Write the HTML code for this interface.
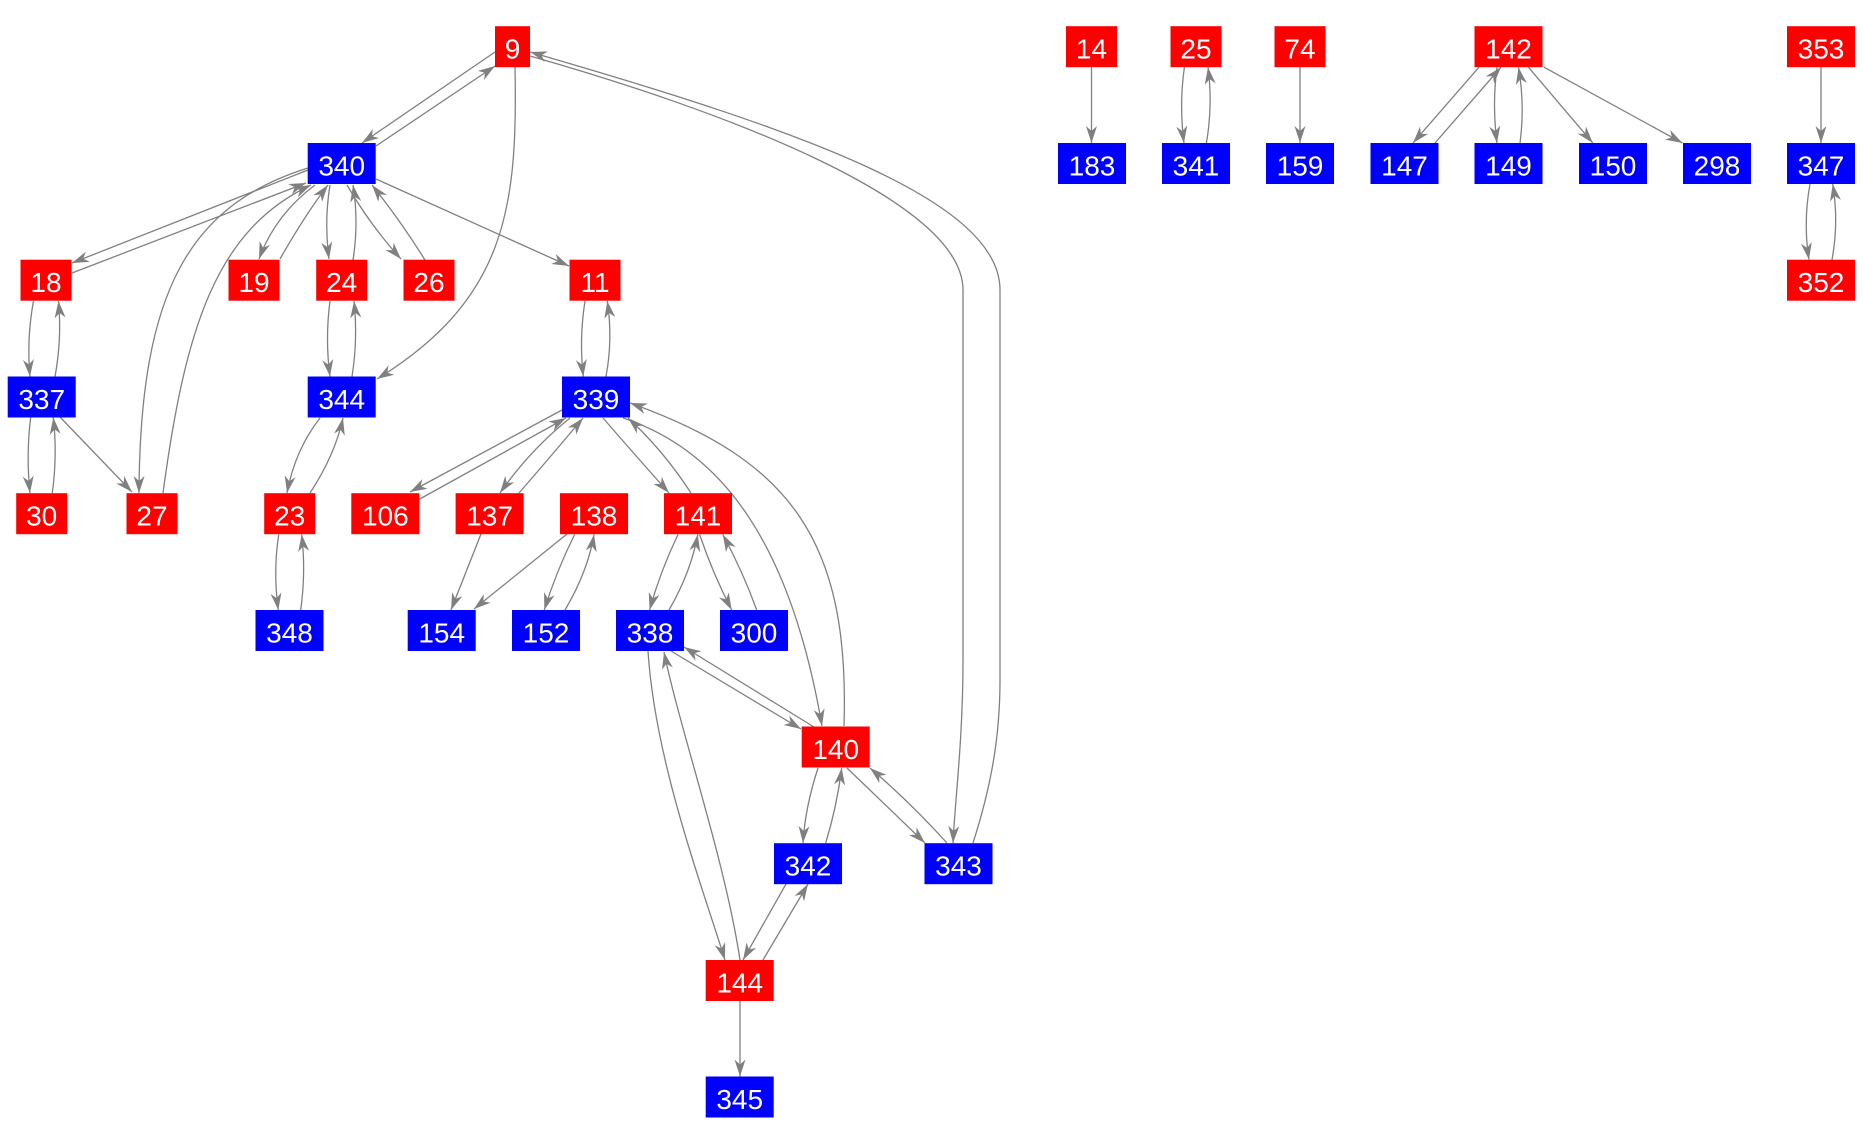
<!DOCTYPE html>
<html>
<head>
<meta charset="utf-8">
<style>
html,body{margin:0;padding:0;background:#fff;}
svg{display:block;}
text{font-family:"Liberation Sans",Arial,sans-serif;font-size:28px;fill:#fff;text-anchor:middle;}
</style>
</head>
<body>
<svg width="1863" height="1142" viewBox="0 0 1863 1142" xmlns="http://www.w3.org/2000/svg">
<defs>
<marker id="a" markerWidth="20" markerHeight="14" refX="18" refY="7" orient="auto" markerUnits="userSpaceOnUse" viewBox="0 0 20 14">
<path d="M18,7 L1,1.5 L6,7 L1,12.5 Z" fill="#808080"/>
</marker>
</defs>
<g fill="none" stroke="#808080" stroke-width="1.3" marker-end="url(#a)">
<path d="M495,52 L362,143"/>
<path d="M376,146 L495,66"/>
<path d="M515,67 C518,210 505,300 377,379"/>
<path d="M530,56 C720,110 963,200 963,290 L963,660 C963,740 955,800 953,843"/>
<path d="M973,843 C990,790 1000,740 1000,680 L1000,290 C1000,200 800,130 530,52"/>
<path d="M308,170 L72,263"/>
<path d="M72,273 L306,183"/>
<path d="M308,168 C190,205 140,290 139,493"/>
<path d="M163,493 C185,330 215,230 311,185"/>
<path d="M315,185 Q275,215 259,259"/>
<path d="M280,259 Q305,215 328,185"/>
<path d="M330,185 Q324,222 329,259"/>
<path d="M353,260 Q359,222 353,185"/>
<path d="M347,185 Q370,225 401,259"/>
<path d="M425,260 Q400,220 372,185"/>
<path d="M376,179 L569,266"/>
<path d="M33.5,301 Q26.5,339 30,376.5"/>
<path d="M55,376.5 Q62,339 58.5,301"/>
<path d="M585,301 Q579,339 583.3,376.5"/>
<path d="M606,376.5 Q613,339 607.3,301"/>
<path d="M330,301 Q325,339 330,376.5"/>
<path d="M352,376.5 Q358,339 354,301"/>
<path d="M30.7,417.5 Q26,455 30,493"/>
<path d="M52.3,493 Q57.5,455 53.3,417.5"/>
<path d="M60,417 L132,492"/>
<path d="M320,418 Q295,450 287,493"/>
<path d="M310,493 Q335,455 343,418"/>
<path d="M278.7,534.5 Q273,572 278.3,610"/>
<path d="M300.7,610 Q306,572 301.7,534.5"/>
<path d="M562,410 L410,492"/>
<path d="M418,500 L566,418"/>
<path d="M570,418 Q530,450 500,493"/>
<path d="M519,493 Q552,455 583,418"/>
<path d="M603,418 Q635,455 669,493"/>
<path d="M691,493 Q663,450 628,418"/>
<path d="M623,418 C720,450 790,540 822,726"/>
<path d="M844,726 C850,540 790,460 630,403"/>
<path d="M567,534 L474,609"/>
<path d="M481,534 L451,610"/>
<path d="M574.6,534.5 Q556,572 544.3,610"/>
<path d="M565,610 Q588,571 594,534.5"/>
<path d="M678,534.5 Q660,572 649.6,610"/>
<path d="M669,610 Q691,572 697.8,534.5"/>
<path d="M699.6,534.5 Q713,574 731.7,610"/>
<path d="M756.7,610 Q743,572 722.8,534.5"/>
<path d="M671,651 L801,729"/>
<path d="M814,727 L684,647"/>
<path d="M648,651 C655,760 700,880 725,960"/>
<path d="M740,960 C725,860 680,730 664,652"/>
<path d="M818,768 Q805,808 803,843"/>
<path d="M825.7,843 Q837,806 841.7,768"/>
<path d="M847,768 L925,843"/>
<path d="M947,843 Q910,802 870,768"/>
<path d="M786,884 L743,960"/>
<path d="M763,960 L808,884"/>
<path d="M740,1001 L740,1076.5"/>
<path d="M1091.5,67.2 L1091.5,143"/>
<path d="M1184.4,67.2 Q1179,105 1184,143"/>
<path d="M1206.4,143 Q1213,105 1208,67.2"/>
<path d="M1300,67.2 L1300,143"/>
<path d="M1479,67.2 L1413,143"/>
<path d="M1435,143 L1501,67.2"/>
<path d="M1497,67.2 Q1492,105 1497,143"/>
<path d="M1520,143 Q1525,105 1518.5,67.2"/>
<path d="M1528.4,67.2 L1592.8,143"/>
<path d="M1544,67.2 L1682.5,143"/>
<path d="M1821,67.2 L1821,143"/>
<path d="M1810,184 Q1803,222 1809,259.7"/>
<path d="M1832,259.7 Q1839,222 1832.7,184"/>
</g>
<g fill="#ff0000">
<rect x="495" y="26.2" width="35" height="41"/>
<rect x="20.5" y="259.7" width="51" height="41"/>
<rect x="228.5" y="259.7" width="51" height="41"/>
<rect x="316.2" y="259.7" width="51" height="41"/>
<rect x="403.5" y="259.7" width="51" height="41"/>
<rect x="569.5" y="259.7" width="51" height="41"/>
<rect x="16.2" y="493.2" width="51" height="41"/>
<rect x="126.5" y="493.2" width="51" height="41"/>
<rect x="264.2" y="493.2" width="51" height="41"/>
<rect x="351.3" y="493.2" width="68" height="41"/>
<rect x="455.6" y="493.2" width="68" height="41"/>
<rect x="560" y="493.2" width="68" height="41"/>
<rect x="664" y="493.2" width="68" height="41"/>
<rect x="801.7" y="726.5" width="68" height="41"/>
<rect x="705.7" y="960" width="68" height="41"/>
<rect x="1066" y="26.2" width="51" height="41"/>
<rect x="1170.5" y="26.2" width="51" height="41"/>
<rect x="1274.5" y="26.2" width="51" height="41"/>
<rect x="1474.5" y="26.2" width="68" height="41"/>
<rect x="1787" y="26.2" width="68" height="41"/>
<rect x="1787" y="259.7" width="68" height="41"/>
</g>
<g fill="#0000ff">
<rect x="307.7" y="143" width="68" height="41"/>
<rect x="7.7" y="376.5" width="68" height="41"/>
<rect x="307.7" y="376.5" width="68" height="41"/>
<rect x="562" y="376.5" width="68" height="41"/>
<rect x="255.5" y="610" width="68" height="41"/>
<rect x="407.7" y="610" width="68" height="41"/>
<rect x="512" y="610" width="68" height="41"/>
<rect x="616" y="610" width="68" height="41"/>
<rect x="720" y="610" width="68" height="41"/>
<rect x="774" y="843.2" width="68" height="41"/>
<rect x="924.5" y="843.2" width="68" height="41"/>
<rect x="705.7" y="1076.5" width="68" height="41"/>
<rect x="1058" y="143" width="68" height="41"/>
<rect x="1162" y="143" width="68" height="41"/>
<rect x="1266" y="143" width="68" height="41"/>
<rect x="1370.5" y="143" width="68" height="41"/>
<rect x="1474.5" y="143" width="68" height="41"/>
<rect x="1579" y="143" width="68" height="41"/>
<rect x="1683" y="143" width="68" height="41"/>
<rect x="1787" y="143" width="68" height="41"/>
</g>
<g>
<text x="512.5" y="58.7">9</text>
<text x="341.7" y="175.5">340</text>
<text x="46" y="292.2">18</text>
<text x="254" y="292.2">19</text>
<text x="341.7" y="292.2">24</text>
<text x="429" y="292.2">26</text>
<text x="595" y="292.2">11</text>
<text x="41.7" y="409">337</text>
<text x="341.7" y="409">344</text>
<text x="596" y="409">339</text>
<text x="41.7" y="525.7">30</text>
<text x="152" y="525.7">27</text>
<text x="289.7" y="525.7">23</text>
<text x="385.3" y="525.7">106</text>
<text x="489.6" y="525.7">137</text>
<text x="594" y="525.7">138</text>
<text x="698" y="525.7">141</text>
<text x="289.5" y="642.4">348</text>
<text x="441.7" y="642.4">154</text>
<text x="546" y="642.4">152</text>
<text x="650" y="642.4">338</text>
<text x="754" y="642.4">300</text>
<text x="835.7" y="759">140</text>
<text x="808" y="875.7">342</text>
<text x="958.5" y="875.7">343</text>
<text x="739.7" y="992.4">144</text>
<text x="739.7" y="1109">345</text>
<text x="1091.5" y="58.7">14</text>
<text x="1196" y="58.7">25</text>
<text x="1300" y="58.7">74</text>
<text x="1508.5" y="58.7">142</text>
<text x="1821" y="58.7">353</text>
<text x="1092" y="175.5">183</text>
<text x="1196" y="175.5">341</text>
<text x="1300" y="175.5">159</text>
<text x="1404.5" y="175.5">147</text>
<text x="1508.5" y="175.5">149</text>
<text x="1613" y="175.5">150</text>
<text x="1717" y="175.5">298</text>
<text x="1821" y="175.5">347</text>
<text x="1821" y="292.2">352</text>
</g>
</svg>
</body>
</html>
